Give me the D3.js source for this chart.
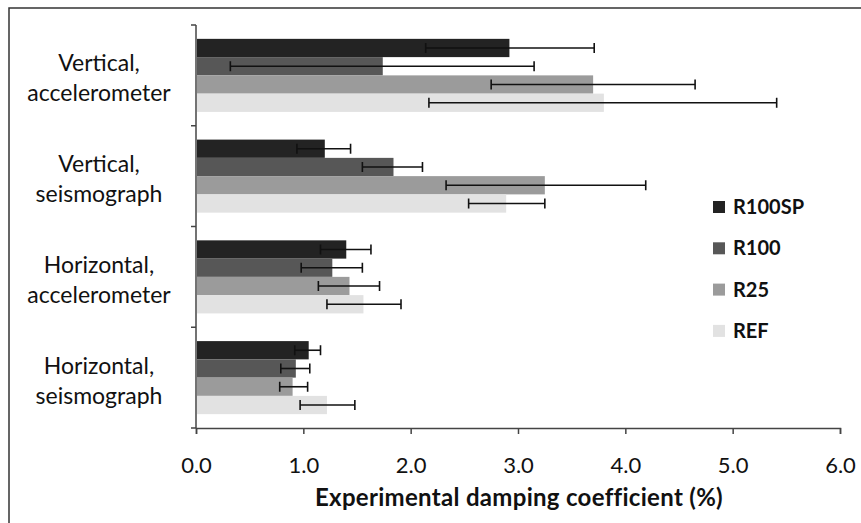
<!DOCTYPE html>
<html lang="en">
<head>
    <meta charset="UTF-8">
    <title>Damping coefficient</title>
    <style>
        body { margin: 0; background: #fff; }
        text { font-family: Lato, "Open Sans", sans-serif; }
    </style>
</head>
<body>
    <script src="https://d3js.org/d3.v7.min.js"></script>
    <script>
        // Data
        const categories = [
            ["Vertical,", "accelerometer"],
            ["Vertical,", "seismograph"],
            ["Horizontal,", "accelerometer"],
            ["Horizontal,", "seismograph"]
        ];
        const seriesNames = ["R100SP", "R100", "R25", "REF"];
        const seriesColors = ["#232323", "#575757", "#9b9b9b", "#e2e2e2"];
        // values per series, one per category
        const R100SP = [2.92, 1.20, 1.40, 1.05];
        const R100 = [1.74, 1.84, 1.27, 0.93];
        const R25 = [3.70, 3.25, 1.43, 0.90];
        const REF = [3.80, 2.89, 1.56, 1.22];
        // error bar low / high ends
        const R100SP_err = [[2.14, 3.71], [0.94, 1.44], [1.16, 1.63], [0.92, 1.16]];
        const R100_err = [[0.32, 3.15], [1.55, 2.11], [0.98, 1.55], [0.79, 1.06]];
        const R25_err = [[2.75, 4.65], [2.33, 4.19], [1.14, 1.71], [0.78, 1.04]];
        const REF_err = [[2.17, 5.41], [2.54, 3.25], [1.22, 1.91], [0.97, 1.48]];
        const xTicks = [0, 1, 2, 3, 4, 5, 6];

        const values = [R100SP, R100, R25, REF];
        const errs = [R100SP_err, R100_err, R25_err, REF_err];

        const width = 861, height = 523;
        const mLeft = 196, mRight = 840, mTop = 25, mBottom = 428;

        const svg = d3.select("body").append("svg")
            .attr("width", width)
            .attr("height", height);

        // outer frame
        svg.append("rect")
            .attr("x", 9).attr("y", 8)
            .attr("width", 900).attr("height", 600)
            .attr("fill", "none")
            .attr("stroke", "#333")
            .attr("stroke-width", 1.5);

        let x = d3.scaleLinear().domain([0, 6]).range([mLeft, mRight]);
        let y = d3.scaleBand()
            .domain(d3.range(categories.length))
            .range([mTop, mBottom])
            .paddingInner(0.275)
            .paddingOuter(0.1375);
        let ySub = d3.scaleBand()
            .domain(d3.range(seriesNames.length))
            .range([0, y.bandwidth()])
            .padding(0);

        // bars
        values.forEach(function (vals, s) {
            svg.append("g").selectAll("rect")
                .data(vals)
                .enter()
                .append("rect")
                .attr("x", x(0) + 1)
                .attr("y", (d, i) => y(i) + ySub(s))
                .attr("width", d => x(d) - x(0) - 1)
                .attr("height", ySub.bandwidth())
                .attr("fill", seriesColors[s]);
        });

        // error bars
        errs.forEach(function (e, s) {
            const g = svg.append("g")
                .attr("stroke", "#111")
                .attr("stroke-width", 1.6);
            e.forEach(function (d, i) {
                const cy = y(i) + ySub(s) + ySub.bandwidth() / 2;
                g.append("line")
                    .attr("x1", x(d[0])).attr("x2", x(d[1]))
                    .attr("y1", cy).attr("y2", cy);
                [d[0], d[1]].forEach(function (v) {
                    g.append("line")
                        .attr("x1", x(v)).attr("x2", x(v))
                        .attr("y1", cy - 5).attr("y2", cy + 5);
                });
            });
        });

        // x axis
        const xAxis = svg.append("g")
            .attr("transform", "translate(0," + mBottom + ")")
            .call(d3.axisBottom(x).tickValues(xTicks).tickFormat(d3.format(".1f")).tickSizeOuter(0).tickSize(6));
        xAxis.select(".domain").attr("stroke", "#444").attr("stroke-width", 1.5);
        xAxis.selectAll(".tick line").attr("stroke", "#444").attr("stroke-width", 1.5);
        xAxis.selectAll(".tick text")
            .attr("dy", 0)
            .attr("y", 45)
            .attr("fill", "#111")
            .style("font-size", "22px");

        // y axis line with boundary ticks
        const yAxis = svg.append("g");
        yAxis.append("line")
            .attr("x1", mLeft).attr("x2", mLeft)
            .attr("y1", mTop).attr("y2", mBottom)
            .attr("stroke", "#444").attr("stroke-width", 1.5);
        const bounds = d3.range(categories.length + 1).map(i => mTop + i * y.step());
        yAxis.selectAll(".bt")
            .data(bounds)
            .enter()
            .append("line")
            .attr("x1", mLeft - 5).attr("x2", mLeft)
            .attr("y1", d => d).attr("y2", d => d)
            .attr("stroke", "#444").attr("stroke-width", 1.5);

        // category labels
        categories.forEach(function (lines, i) {
            const cy = y(i) + y.bandwidth() / 2;
            const t = svg.append("text")
                .attr("text-anchor", "middle")
                .attr("fill", "#111")
                .style("font-size", "23px");
            lines.forEach(function (l, k) {
                t.append("tspan")
                    .attr("x", 99)
                    .attr("y", cy - 4 + k * 30)
                    .text(l);
            });
        });

        // axis title
        svg.append("text")
            .attr("x", (mLeft + mRight) / 2 + 1)
            .attr("y", 506)
            .attr("text-anchor", "middle")
            .attr("fill", "#111")
            .style("font-size", "24px")
            .style("letter-spacing", "0.3px")
            .style("font-weight", "bold")
            .text("Experimental damping coefficient (%)");

        // legend
        const legend = svg.append("g").selectAll("g")
            .data(seriesNames)
            .enter()
            .append("g")
            .attr("transform", (d, i) => "translate(713," + (207 + i * 41.3) + ")");
        legend.append("rect")
            .attr("x", 0).attr("y", -6)
            .attr("width", 12).attr("height", 12)
            .attr("fill", (d, i) => seriesColors[i]);
        legend.append("text")
            .attr("x", 20).attr("y", 7)
            .attr("fill", "#111")
            .style("font-size", "20px")
            .style("font-weight", "bold")
            .text(d => d);
    </script>
</body>
</html>
